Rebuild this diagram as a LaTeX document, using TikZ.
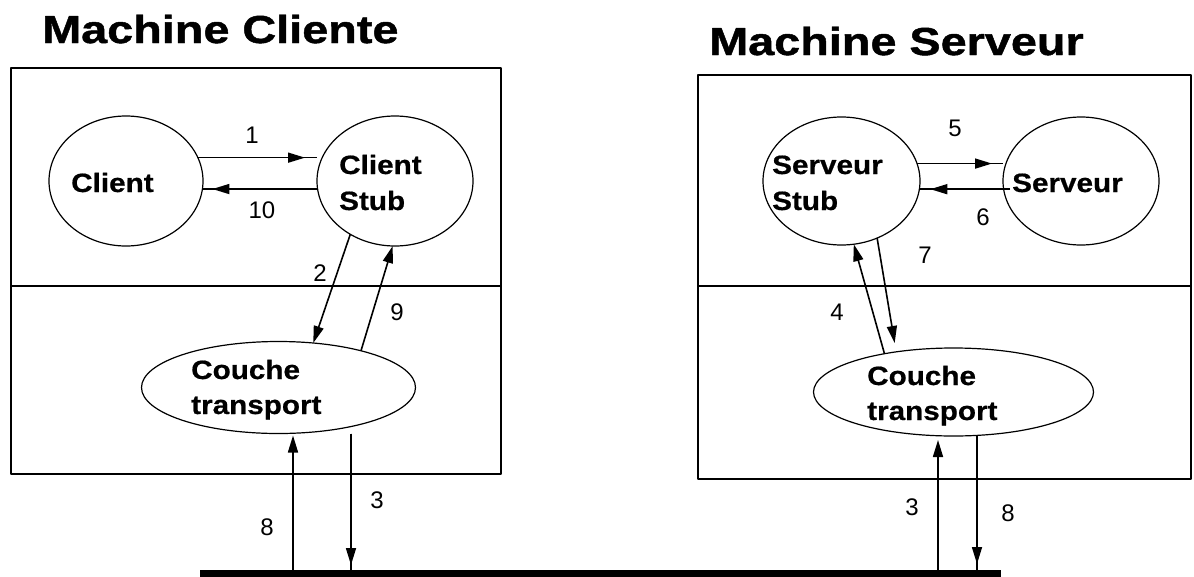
\documentclass[tikz,border=0pt]{standalone}
\usepackage{fontspec}
\setmainfont{Liberation Sans}
\newfontfamily\headfont[FakeStretch=1.2,FakeBold=1.2]{Liberation Sans Bold}
\newfontfamily\labelfont[FakeStretch=1.12,FakeBold=0.6]{Liberation Sans Bold}
\usetikzlibrary{arrows.meta,calc,shapes.geometric}

\begin{document}
\begin{tikzpicture}[x=1pt,y=-1pt,line join=round,
  machine/.style={draw,line width=2pt},
  proc/.style={draw,ellipse,line width=1.2pt,inner sep=0pt,outer sep=0pt},
  head/.style={font=\headfont\fontsize{39}{44}\selectfont,inner sep=0pt,anchor=base west},
  pname/.style={font=\labelfont\fontsize{26.5}{32}\selectfont,inner sep=0pt,anchor=base west},
  num/.style={font=\fontsize{24}{28}\selectfont,inner sep=0pt},
  msg/.style={line width=1.6pt},
  tip/.style={-{Triangle[length=17pt,width=10pt]},line width=1.6pt}]

\useasboundingbox (0,0) rectangle (1194,576);

% titles
\node[head] (t1) at (42,43) {Machine Cliente};
\node[head] (t2) at (709,55) {Machine Serveur};

% machine frames, each split into an application part and a transport part
\draw[machine] (10.7,68) rectangle (500.6,474);
\draw[machine] (10.7,286) -- (500.6,286);
\draw[machine] (697.6,75) rectangle (1191,479);
\draw[machine] (697.6,286) -- (1191,286);

% network bus
\fill (200,570) rectangle (1001,577);
\coordinate (b8L) at (293,570);
\coordinate (b3L) at (351,570);
\coordinate (b3R) at (938,570);
\coordinate (b8R) at (977,570);

% processes of the client machine
\node[proc,minimum width=154pt,minimum height=130pt] (cl) at (126,181) {};
\node[proc,minimum width=156pt,minimum height=130pt] (cs) at (395,181) {};
\node[proc,minimum width=274pt,minimum height=92pt] (tl) at (278.5,387.5) {};

% processes of the server machine
\node[proc,minimum width=157pt,minimum height=128pt] (ss) at (841.5,181) {};
\node[proc,minimum width=156pt,minimum height=128pt] (sv) at (1081,181) {};
\node[proc,minimum width=280pt,minimum height=88pt] (tr) at (953.5,392) {};

% process names
\node[pname] (clA) at (71,192) {Client};
\node[pname] (csA) at (339,174) {Client};
\node[pname] (csB) at (339,210) {Stub};
\node[pname] (tlA) at (191,379) {Couche};
\node[pname] (tlB) at (191,414) {transport};
\node[pname] (ssA) at (772,174) {Serveur};
\node[pname] (ssB) at (772,210) {Stub};
\node[pname] (svA) at (1012,192) {Serveur};
\node[pname] (trA) at (867,385) {Couche};
\node[pname] (trB) at (867,420) {transport};

% client side messages
\draw[msg] (cl.18) -- (cl.18 -| cs.west);
\draw[tip,shorten >=12pt] (cl.18) -- (cl.18 -| cs.west);
\draw[msg] (cl.-6 -| cs.west) -- (cl.-6);
\draw[tip,shorten >=10pt] (cl.-6 -| cs.west) -- (cl.-6);
\draw[tip] (cs.230) -- (tl.52);
\draw[tip] (tl.24) -- (cs.268);
\draw[tip,shorten >=2pt] (b8L) -- (b8L |- tl.south);
\draw[msg] (b3L |- tl.south) -- (b3L);
\draw[tip,shorten >=5pt] (b3L |- tl.south) -- (b3L);

% server side messages
\draw[msg] (ss.13) -- (ss.13 -| sv.west);
\draw[tip,shorten >=11pt] (ss.13) -- (ss.13 -| sv.west);
\draw[msg] ([xshift=7pt]ss.-6 -| sv.west) -- (ss.-6);
\draw[tip,shorten >=11pt] ([xshift=7pt]ss.-6 -| sv.west) -- (ss.-6);
\draw[tip] (tr.151) -- (ss.281);
\draw[tip,shorten >=9pt] (ss.302) -- (tr.145);
\draw[tip,shorten >=4pt] (b3R) -- (b3R |- tr.south);
\draw[msg] (b8R |- tr.south) -- (b8R);
\draw[tip,shorten >=6pt] (b8R |- tr.south) -- (b8R);

% message numbers
\node[num] (n1) at (252,135) {1};
\node[num] (n10) at (262,210) {10};
\node[num] (n2) at (320,273) {2};
\node[num] (n9) at (397,312) {9};
\node[num] (n8L) at (267,527) {8};
\node[num] (n3L) at (377,500) {3};
\node[num] (n5) at (955,128) {5};
\node[num] (n6) at (983,217) {6};
\node[num] (n7) at (925,255) {7};
\node[num] (n4) at (837,312) {4};
\node[num] (n3R) at (912,507) {3};
\node[num] (n8R) at (1008,513) {8};
\end{tikzpicture}
\end{document}
